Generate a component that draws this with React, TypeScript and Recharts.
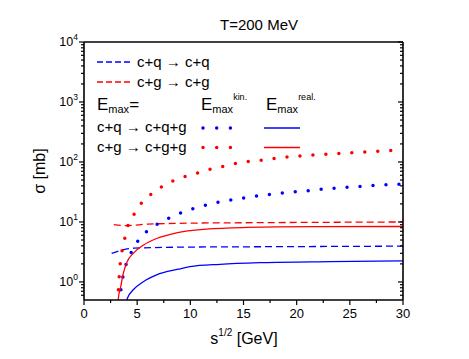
import { Line, LineChart, XAxis, YAxis } from 'recharts'

const FONT = '"Liberation Sans", Arial, sans-serif'
const BLUE = '#0000ff'
const RED = '#ff0000'

// axis ticks
const xMajorTicks = [0, 5, 10, 15, 20, 25, 30]
const xMinorTicks = [2.5, 7.5, 12.5, 17.5, 22.5, 27.5]
const yDecades = [1, 10, 100, 1000, 10000]
const yDecadeLabels = ['0', '1', '2', '3', '4']
const yMinorSteps = [2, 3, 4, 5, 6, 7, 8, 9]
const yMinorBelowOne = [0.6, 0.7, 0.8, 0.9]

// c+q -> c+q (elastic)
const elasticQuark = [
  { x: 2.6, y: 3.0 },
  { x: 3.85, y: 3.5 },
  { x: 4.7, y: 3.65 },
  { x: 9, y: 3.8 },
  { x: 15, y: 3.85 },
  { x: 22, y: 3.9 },
  { x: 30, y: 3.95 }
]

// c+g -> c+g (elastic)
const elasticGluon = [
  { x: 2.8, y: 9.0 },
  { x: 3.9, y: 8.7 },
  { x: 6, y: 9.2 },
  { x: 9, y: 9.5 },
  { x: 15, y: 9.7 },
  { x: 22, y: 9.85 },
  { x: 30, y: 10.0 }
]

// c+q -> c+q+g, E_max kin.
const radQuarkKin = [
  { x: 3.3, y: 0.45 },
  { x: 3.38, y: 0.57 },
  { x: 3.54, y: 0.91 },
  { x: 3.76, y: 1.49 },
  { x: 4.16, y: 2.4 },
  { x: 4.7, y: 3.8 },
  { x: 5.36, y: 5.6 },
  { x: 6.36, y: 8.0 },
  { x: 7.45, y: 10.4 },
  { x: 8.65, y: 13.1 },
  { x: 9.8, y: 15.8 },
  { x: 10.97, y: 18 },
  { x: 12.15, y: 20.5 },
  { x: 13.4, y: 22.6 },
  { x: 14.66, y: 24.5 },
  { x: 15.9, y: 26.5 },
  { x: 18.4, y: 30 },
  { x: 20.9, y: 33 },
  { x: 23.4, y: 36.5 },
  { x: 25.9, y: 39 },
  { x: 28.3, y: 41.6 },
  { x: 30, y: 43 }
]

// c+g -> c+g+g, E_max kin.
const radGluonKin = [
  { x: 3.18, y: 0.45 },
  { x: 3.22, y: 0.69 },
  { x: 3.29, y: 1.08 },
  { x: 3.38, y: 1.8 },
  { x: 3.54, y: 3.0 },
  { x: 3.79, y: 4.9 },
  { x: 4.07, y: 8.0 },
  { x: 4.63, y: 12.7 },
  { x: 5.26, y: 19.2 },
  { x: 6.14, y: 27.4 },
  { x: 7.14, y: 37 },
  { x: 8.33, y: 48 },
  { x: 9.5, y: 57 },
  { x: 10.74, y: 66 },
  { x: 11.9, y: 76 },
  { x: 13.16, y: 85 },
  { x: 14.35, y: 95 },
  { x: 16.85, y: 108 },
  { x: 19.36, y: 122 },
  { x: 22.96, y: 135 },
  { x: 26.7, y: 148 },
  { x: 30, y: 160 }
]

// c+q -> c+q+g, E_max real.
const radQuarkReal = [
  { x: 4.0, y: 0.45 },
  { x: 4.07, y: 0.53 },
  { x: 4.63, y: 0.74 },
  { x: 5.58, y: 1.01 },
  { x: 6.83, y: 1.31 },
  { x: 8.87, y: 1.63 },
  { x: 9.96, y: 1.8 },
  { x: 12.8, y: 1.97 },
  { x: 16.8, y: 2.1 },
  { x: 23.1, y: 2.18 },
  { x: 30, y: 2.24 }
]

// c+g -> c+g+g, E_max real.
const radGluonReal = [
  { x: 3.2, y: 0.45 },
  { x: 3.23, y: 0.53 },
  { x: 3.45, y: 0.83 },
  { x: 3.7, y: 1.4 },
  { x: 4.07, y: 2.2 },
  { x: 4.63, y: 3.0 },
  { x: 5.58, y: 4.1 },
  { x: 6.83, y: 5.3 },
  { x: 8.7, y: 6.6 },
  { x: 11.5, y: 7.6 },
  { x: 15.3, y: 8.1 },
  { x: 21.5, y: 8.35 },
  { x: 30, y: 8.4 }
]

const yTicks = [
  ...yMinorBelowOne,
  ...yDecades.flatMap((d, i) => (i < yDecades.length - 1 ? [d, ...yMinorSteps.map((s) => s * d)] : [d]))
]
const xTicks = [...xMajorTicks, ...xMinorTicks].sort((a, b) => a - b)

function YTick({ x, y, payload, side }: any) {
  const idx = yDecades.indexOf(payload.value)
  const major = idx >= 0
  const len = major ? 5 : 3
  if (side === 'right') {
    return <line x1={x - len} x2={x} y1={y} y2={y} stroke="#000" strokeWidth={1.2} />
  }
  return (
    <g>
      <line x1={x - len} x2={x} y1={y} y2={y} stroke="#000" strokeWidth={1.2} />
      {major && (
        <text x={x - 6} y={y + 4} textAnchor="end" fontSize={12.5} fontFamily={FONT} fill="#000">
          10
          <tspan dy={-6} fontSize={8.5}>
            {yDecadeLabels[idx]}
          </tspan>
        </text>
      )}
    </g>
  )
}

function XTick({ x, y, payload, side }: any) {
  const major = xMajorTicks.includes(payload.value)
  const len = major ? 5 : 3
  if (side === 'top') {
    return <line x1={x} x2={x} y1={y - len} y2={y} stroke="#000" strokeWidth={1.2} />
  }
  return (
    <g>
      <line x1={x} x2={x} y1={y} y2={y + len} stroke="#000" strokeWidth={1.2} />
      {major && (
        <text x={x} y={y + 18} textAnchor="middle" fontSize={13} fontFamily={FONT} fill="#000">
          {payload.value}
        </text>
      )}
    </g>
  )
}

function Overlay() {
  const t = { fontFamily: FONT, fill: '#000' }
  return (
    <svg
      width={469}
      height={359}
      style={{ position: 'absolute', left: 0, top: 0, pointerEvents: 'none' }}
    >
      <text x={259} y={30} textAnchor="middle" fontSize={15} {...t}>
        T=200 MeV
      </text>
      <text x={244} y={344} textAnchor="middle" fontSize={16} {...t}>
        s
        <tspan dy={-8} fontSize={10}>
          1/2
        </tspan>
        <tspan dy={8}> [GeV]</tspan>
      </text>
      <text x={45} y={171} textAnchor="middle" fontSize={16} transform="rotate(-90 45 171)" {...t}>
        σ [mb]
      </text>

      {/* legend */}
      <line x1={97} x2={133} y1={62} y2={62} stroke={BLUE} strokeWidth={1.3} strokeDasharray="6 3" />
      <text x={137} y={67} fontSize={15} {...t}>
        c+q → c+q
      </text>
      <line x1={97} x2={133} y1={82} y2={82} stroke={RED} strokeWidth={1.3} strokeDasharray="6 3" />
      <text x={137} y={87} fontSize={15} {...t}>
        c+g → c+g
      </text>

      <text x={97} y={110} fontSize={17} {...t}>
        E
        <tspan dy={3} fontSize={11}>
          max
        </tspan>
        <tspan dy={-3}>=</tspan>
      </text>
      <text x={201} y={110} fontSize={17} {...t}>
        E
        <tspan dy={3} fontSize={11}>
          max
        </tspan>
        <tspan dy={-13} fontSize={9}>
          kin.
        </tspan>
      </text>
      <text x={266} y={110} fontSize={17} {...t}>
        E
        <tspan dy={3} fontSize={11}>
          max
        </tspan>
        <tspan dy={-13} fontSize={9}>
          real.
        </tspan>
      </text>

      <text x={97} y={132} fontSize={15} {...t}>
        c+q → c+q+g
      </text>
      <line
        x1={203}
        x2={232}
        y1={128}
        y2={128}
        stroke={BLUE}
        strokeWidth={3.5}
        strokeLinecap="round"
        strokeDasharray="0 13.7"
      />
      <line x1={264} x2={300} y1={128} y2={128} stroke={BLUE} strokeWidth={1.3} />

      <text x={97} y={152} fontSize={15} {...t}>
        c+g → c+g+g
      </text>
      <line
        x1={203}
        x2={232}
        y1={147.5}
        y2={147.5}
        stroke={RED}
        strokeWidth={3.5}
        strokeLinecap="round"
        strokeDasharray="0 13.7"
      />
      <line x1={264} x2={300} y1={147.5} y2={147.5} stroke={RED} strokeWidth={1.3} />
    </svg>
  )
}

export default function App() {
  const axisCommon = {
    type: 'number' as const,
    tickSize: 0,
    tickMargin: 0,
    interval: 0 as const,
    tickLine: false,
    axisLine: { stroke: '#000', strokeWidth: 1.6 }
  }
  return (
    <div style={{ position: 'absolute', left: 0, top: 0, width: 469, height: 359, background: '#fff' }}>
      <LineChart width={469} height={359} margin={{ top: 32, left: 44, right: 56, bottom: 29 }}>
        <XAxis
          {...axisCommon}
          xAxisId="bottom"
          dataKey="x"
          orientation="bottom"
          height={30}
          domain={[0, 30]}
          ticks={xTicks}
          tick={(p: any) => <XTick {...p} side="bottom" />}
        />
        <XAxis
          {...axisCommon}
          xAxisId="top"
          dataKey="x"
          orientation="top"
          height={10}
          domain={[0, 30]}
          ticks={xTicks}
          tick={(p: any) => <XTick {...p} side="top" />}
        />
        <YAxis
          {...axisCommon}
          yAxisId="left"
          dataKey="y"
          orientation="left"
          width={40}
          scale="log"
          domain={[0.5, 10000]}
          allowDataOverflow
          ticks={yTicks}
          tick={(p: any) => <YTick {...p} side="left" />}
        />
        <YAxis
          {...axisCommon}
          yAxisId="right"
          dataKey="y"
          orientation="right"
          width={10}
          scale="log"
          domain={[0.5, 10000]}
          allowDataOverflow
          ticks={yTicks}
          tick={(p: any) => <YTick {...p} side="right" />}
        />
        <Line
          xAxisId="bottom"
          yAxisId="left"
          data={elasticQuark}
          dataKey="y"
          type="monotone"
          stroke={BLUE}
          strokeWidth={1.3}
          strokeDasharray="7 4"
          dot={false}
          isAnimationActive={false}
        />
        <Line
          xAxisId="bottom"
          yAxisId="left"
          data={elasticGluon}
          dataKey="y"
          type="monotone"
          stroke={RED}
          strokeWidth={1.3}
          strokeDasharray="7 4"
          dot={false}
          isAnimationActive={false}
        />
        <Line
          xAxisId="bottom"
          yAxisId="left"
          data={radQuarkKin}
          dataKey="y"
          type="monotone"
          stroke={BLUE}
          strokeWidth={3.5}
          strokeLinecap="round"
          strokeDasharray="0 13"
          dot={false}
          isAnimationActive={false}
        />
        <Line
          xAxisId="bottom"
          yAxisId="left"
          data={radGluonKin}
          dataKey="y"
          type="monotone"
          stroke={RED}
          strokeWidth={3.5}
          strokeLinecap="round"
          strokeDasharray="0 13"
          dot={false}
          isAnimationActive={false}
        />
        <Line
          xAxisId="bottom"
          yAxisId="left"
          data={radQuarkReal}
          dataKey="y"
          type="monotone"
          stroke={BLUE}
          strokeWidth={1.3}
          dot={false}
          isAnimationActive={false}
        />
        <Line
          xAxisId="bottom"
          yAxisId="left"
          data={radGluonReal}
          dataKey="y"
          type="monotone"
          stroke={RED}
          strokeWidth={1.3}
          dot={false}
          isAnimationActive={false}
        />
      </LineChart>
      <Overlay />
    </div>
  )
}
